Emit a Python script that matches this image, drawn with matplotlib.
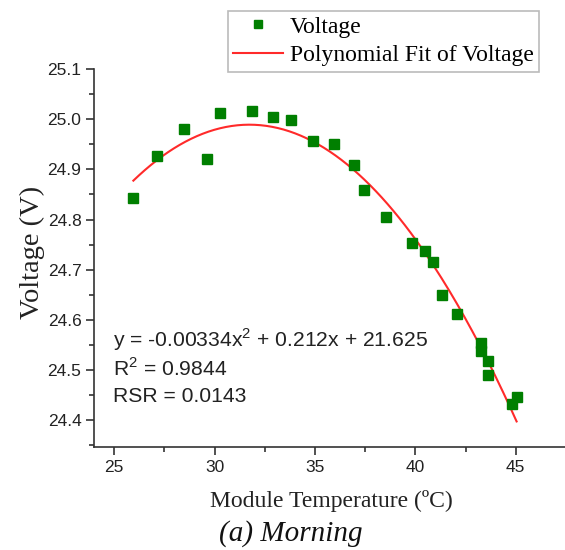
import matplotlib
matplotlib.use('Agg')
import matplotlib.pyplot as plt
from matplotlib.ticker import MultipleLocator
import numpy as np

# 数据
temp = [25.96, 27.16, 28.48, 29.62, 30.27, 31.87, 32.92, 33.82, 34.88, 35.93,
        36.94, 37.43, 38.52, 39.85, 40.47, 40.89, 41.33, 42.08, 43.26, 43.26,
        43.60, 43.60, 44.83, 45.04]
voltage = [24.844, 24.927, 24.980, 24.921, 25.013, 25.017, 25.005, 24.998, 24.956, 24.950,
           24.909, 24.858, 24.806, 24.753, 24.737, 24.716, 24.649, 24.611, 24.554, 24.538,
           24.518, 24.490, 24.432, 24.447]
fit_coef = [-0.00334, 0.212, 21.625]
eq_lines = ['y = -0.00334x$^2$ + 0.212x + 21.625', 'R$^2$ = 0.9844', 'RSR = 0.0143']

serif = ['Liberation Serif', 'DejaVu Serif']
sans = ['Liberation Sans', 'DejaVu Sans']
plt.rcParams['mathtext.fontset'] = 'custom'
plt.rcParams['mathtext.rm'] = 'Liberation Sans'

fig = plt.figure(figsize=(5.65, 5.5), dpi=100)
ax = fig.add_axes([94 / 565, 103 / 550, 1 - 94 / 565, 378 / 550])

xs = np.linspace(min(temp), max(temp), 200)
ax.plot(xs, np.polyval(fit_coef, xs), color='#FF2A2A', lw=1.5, zorder=2,
        label='Polynomial Fit of Voltage')
ax.plot(temp, voltage, 's', color='#007F00', ms=7, mec='#007F00', ls='none',
        zorder=3, label='Voltage')

ax.set_xlim(24, 47.45)
ax.set_ylim(24.347, 25.1)
ax.xaxis.set_minor_locator(MultipleLocator(2.5))
ax.yaxis.set_minor_locator(MultipleLocator(0.05))
ax.set_xticks([25, 30, 35, 40, 45])
yt = np.arange(24.4, 25.11, 0.1)
ax.set_yticks(yt)
ax.set_yticklabels([f'{v:.1f}' for v in yt])

for s in ['top', 'right']:
    ax.spines[s].set_visible(False)
for s in ['left', 'bottom']:
    ax.spines[s].set_linewidth(1.2)
    ax.spines[s].set_color('#333333')
ax.tick_params(which='major', direction='out', length=6, width=1.2, color='#333333',
               labelsize=12.5, pad=3)
ax.tick_params(which='minor', direction='out', length=3.5, width=1.2, color='#333333')
for lab in ax.get_xticklabels() + ax.get_yticklabels():
    lab.set_family(sans)
    lab.set_color('#222222')

# 方程文本
for i, t in enumerate(eq_lines):
    fig.text(113 / 565, 1 - (340 + i * 28) / 550, t, fontsize=15.2, family=sans,
             color='#222222', ha='left', va='center')

# 坐标轴标题
fig.text(32 / 565, 1 - 252 / 550, 'Voltage (V)', rotation=90, fontsize=20.5,
         family=serif, ha='center', va='center', color='#222222')
fig.text(331 / 565, 1 - 501 / 550, 'Module Temperature (ºC)', fontsize=17,
         family=serif, ha='center', va='center', color='#222222')
fig.text(291 / 565, 1 - 534 / 550, '(a) Morning', fontsize=21, family=serif,
         style='italic', ha='center', va='center', color='#111111')

# 图例
h, l = ax.get_legend_handles_labels()
leg = fig.legend(h[::-1], l[::-1], loc='upper left',
                 bbox_to_anchor=(228 / 565, 1 - 11 / 550), borderaxespad=0,
                 prop={'family': serif, 'size': 17}, fancybox=False,
                 edgecolor='#BBBBBB', framealpha=1, handlelength=2.1,
                 handletextpad=0.3, borderpad=0.22, labelspacing=0.3)
leg.get_frame().set_linewidth(1.2)
leg.legend_handles[0].set_markersize(6)

fig.savefig('out.png', dpi=100, facecolor='white')
